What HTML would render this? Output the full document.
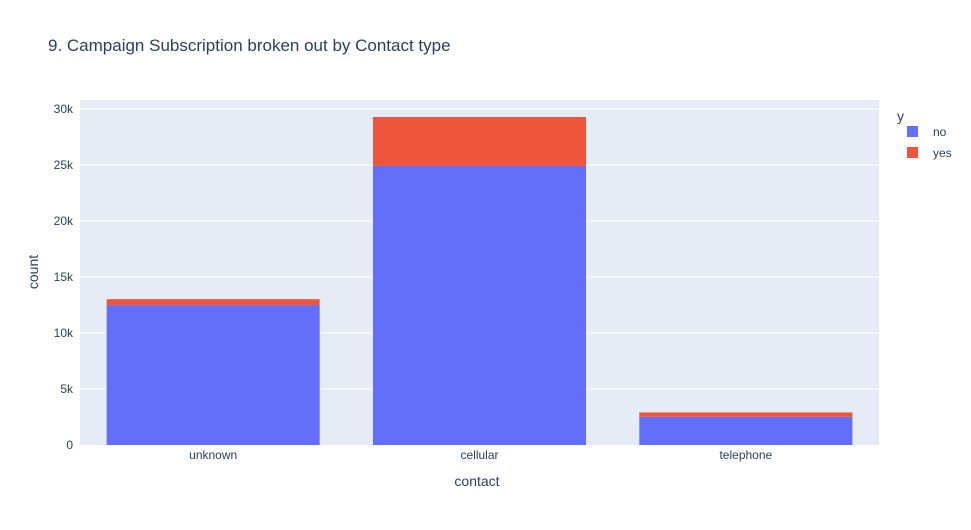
<!DOCTYPE html>
<html><head><meta charset="utf-8"><style>
body{margin:0;background:#fff;font-family:"Liberation Sans",Arial,sans-serif;}
svg text{font-family:"Liberation Sans",Arial,sans-serif;fill:#2a3f5f;}
</style></head><body>
<svg id="chart" width="971" height="525" xmlns="http://www.w3.org/2000/svg">
<text x="48" y="51" font-size="17">9. Campaign Subscription broken out by Contact type</text>
<rect x="80" y="100" width="799" height="345" fill="#e5ecf6"/>
<g id="grid"></g><g id="bars"></g><g id="ticks"></g>
<text x="477" y="486" font-size="14" text-anchor="middle">contact</text>
<text x="38" y="272" font-size="14" text-anchor="middle" transform="rotate(-90 38 272)">count</text>
<text x="897" y="121" font-size="14">y</text>
<g><rect x="907" y="126" width="11" height="11" fill="#636efa"/><text x="933" y="136" font-size="12">no</text></g>
<g><rect x="907" y="147" width="11" height="11" fill="#ef553b"/><text x="933" y="157" font-size="12">yes</text></g>
</svg>
<script>
const categories=["unknown","cellular","telephone"];
const noValues=[12490,24916,2516];
const yesValues=[530,4369,390];
const yTicks=[0,5000,10000,15000,20000,25000,30000];
const yTickLabels=["0","5k","10k","15k","20k","25k","30k"];
const NS="http://www.w3.org/2000/svg";
const x0=80,w=799,yBase=445,pxPerUnit=336/30000;
const band=w/categories.length,bw=band*0.8;
const y=v=>yBase-v*pxPerUnit;
const xc=i=>x0+band*(i+0.5);
function mk(tag,attrs,parent){const e=document.createElementNS(NS,tag);for(const k in attrs)e.setAttribute(k,attrs[k]);document.getElementById(parent).appendChild(e);return e;}
yTicks.forEach((t,i)=>{
 if(t>0){const l=mk('line',{x1:x0,x2:x0+w,y1:y(t),y2:y(t),stroke:'#fff','stroke-width':1},'grid');
 
 }
 const tx=mk('text',{x:x0-7,y:y(t)+4,'font-size':12,'text-anchor':'end'},'ticks');tx.textContent=yTickLabels[i];
 
 
});
categories.forEach((c,i)=>{
 const r1=mk('rect',{x:xc(i)-bw/2,y:y(noValues[i]),width:bw,height:yBase-y(noValues[i]),fill:'#636efa'},'bars');
 
 
 const top=noValues[i]+yesValues[i];
 const r2=mk('rect',{x:xc(i)-bw/2,y:y(top),width:bw,height:y(noValues[i])-y(top),fill:'#ef553b'},'bars');
 
 
 const tx=mk('text',{x:xc(i),y:yBase+14,'font-size':12,'text-anchor':'middle'},'ticks');tx.textContent=c;
 
 
});
</script>
</body></html>
